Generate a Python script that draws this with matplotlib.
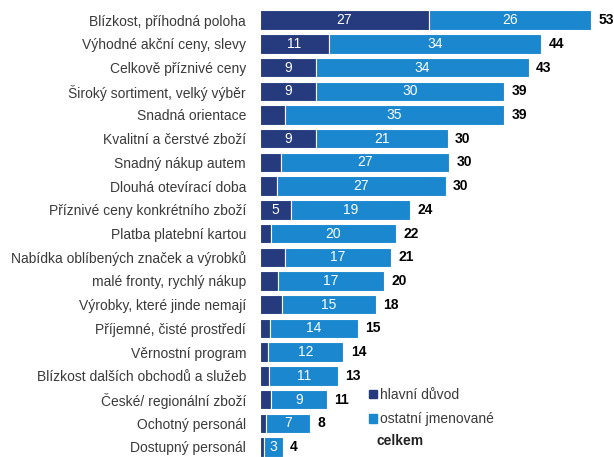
import matplotlib
matplotlib.use("Agg")
import matplotlib.pyplot as plt
from matplotlib.patches import Patch

plt.rcParams['font.family'] = ['Liberation Sans Narrow', 'Liberation Sans', 'DejaVu Sans']

# data
categories = [
    "Blízkost, příhodná poloha", "Výhodné akční ceny, slevy", "Celkově příznivé ceny",
    "Široký sortiment, velký výběr", "Snadná orientace", "Kvalitní a čerstvé zboží",
    "Snadný nákup autem", "Dlouhá otevírací doba", "Příznivé ceny konkrétního zboží",
    "Platba platební kartou", "Nabídka oblíbených značek a výrobků", "malé fronty, rychlý nákup",
    "Výrobky, které jinde nemají", "Příjemné, čisté prostředí", "Věrnostní program",
    "Blízkost dalších obchodů a služeb", "České/ regionální zboží", "Ochotný personál",
    "Dostupný personál",
]
hlavni = [27, 11, 9, 9, 4, 9, 3.3, 2.7, 5, 1.7, 4, 2.8, 3.5, 1.6, 1.3, 1.5, 1.7, 1.0, 0.6]
ostatni = [26, 34, 34, 30, 35, 21, 27, 27, 19, 20, 17, 17, 15, 14, 12, 11, 9, 7, 3]
celkem = [53, 44, 43, 39, 39, 30, 30, 30, 24, 22, 21, 20, 18, 15, 14, 13, 11, 8, 4]
show_hlavni = [True, True, True, True, False, True, False, False, True] + [False] * 10

dark = "#253b7e"
light = "#1b87cf"

fig = plt.figure(figsize=(6.14, 4.57), dpi=100)
ax = fig.add_axes([260 / 614, -0.004, 350 / 614, 0.986])

y = list(range(len(categories)))
ax.barh(y, hlavni, height=0.82, color=dark, edgecolor="white", linewidth=0.8)
ax.barh(y, ostatni, left=hlavni, height=0.82, color=light, edgecolor="white", linewidth=0.8)

for i in y:
    if show_hlavni[i]:
        ax.text(hlavni[i] / 2, i, str(hlavni[i]), color="white", ha="center", va="center", fontsize=10)
    ax.text(hlavni[i] + ostatni[i] / 2, i, str(ostatni[i]), color="white", ha="center", va="center", fontsize=10)
    ax.text(hlavni[i] + ostatni[i] + 1.2, i, str(celkem[i]), color="black", ha="left", va="center",
            fontsize=10, fontweight="bold")

ax.set_xlim(0, 56)
ax.set_ylim(18.5, -0.5)
ax.set_yticks(y)
ax.set_yticklabels(categories, fontsize=10, color="#3a3a3a")
ax.tick_params(axis="y", length=0, pad=10)
ax.set_xticks([])
for s in ax.spines.values():
    s.set_visible(False)

handles = [Patch(color=dark), Patch(color=light)]
fig.legend(handles, ["hlavní důvod", "ostatní jmenované"], loc="upper left",
           bbox_to_anchor=(362 / 614, 1 - 381 / 457), frameon=False, fontsize=10,
           handlelength=0.6, handleheight=0.6, handletextpad=0.2, labelspacing=0.75,
           borderpad=0, labelcolor="#3a3a3a")
fig.text(376 / 614, 1 - 441 / 457, "celkem", fontsize=10, fontweight="bold", va="center", color="#222222")

fig.savefig("out.png", dpi=100)
